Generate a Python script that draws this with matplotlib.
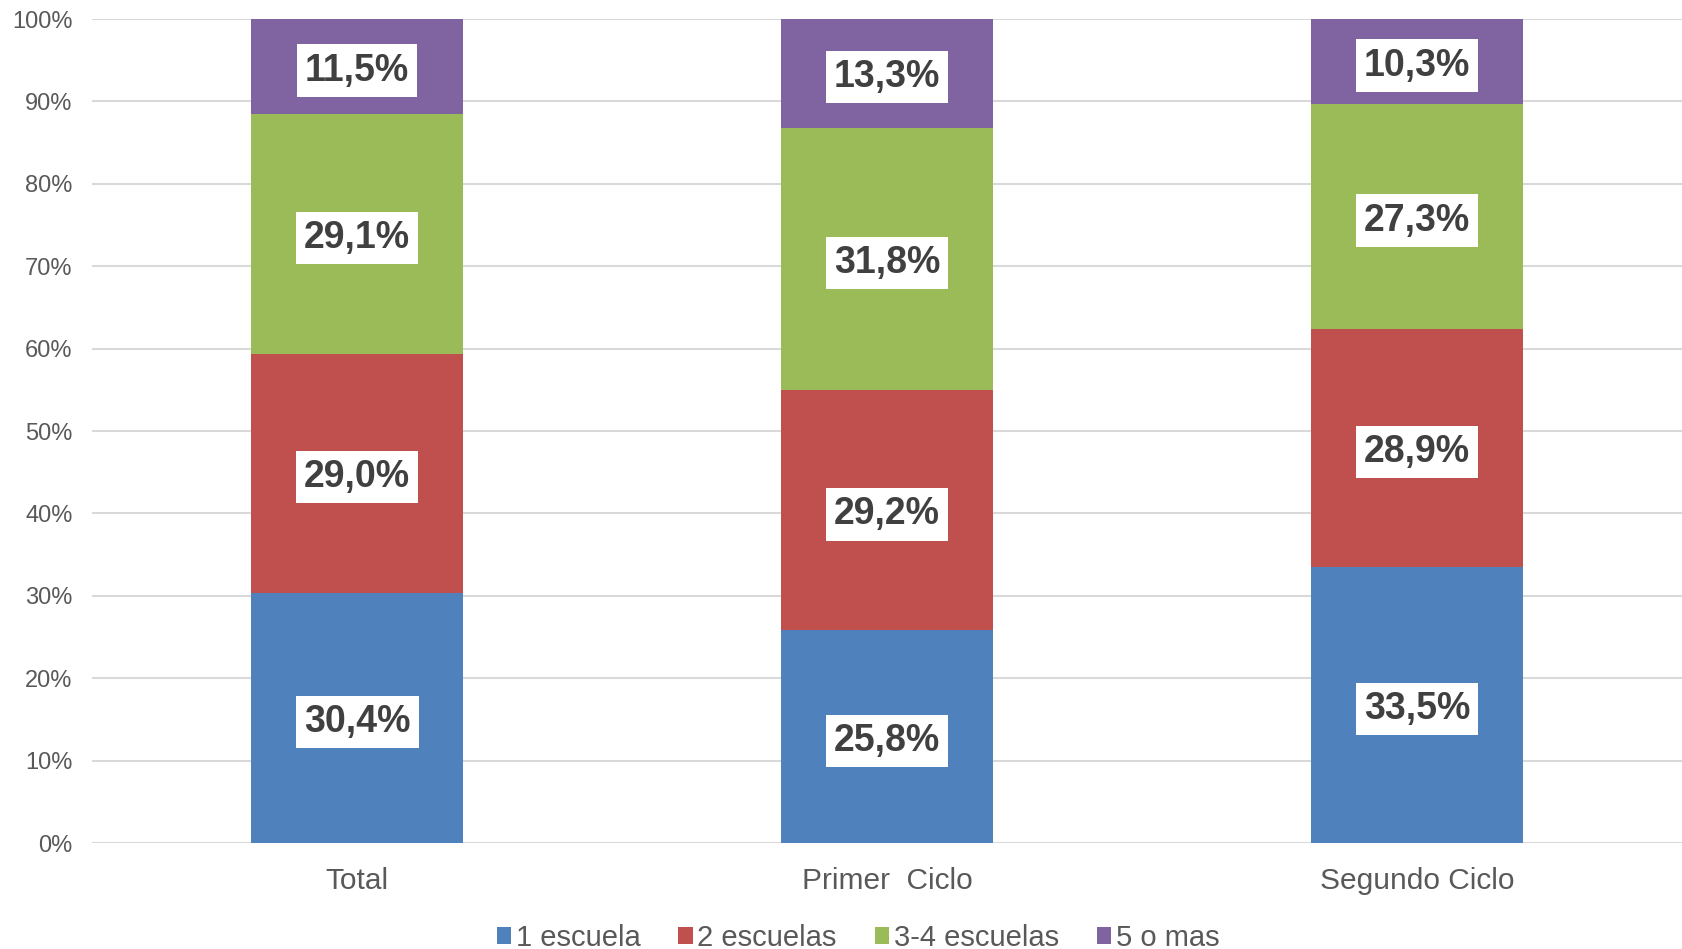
import matplotlib
matplotlib.use("Agg")
import matplotlib.pyplot as plt
import numpy as np

categories = ["Total", "Primer  Ciclo", "Segundo Ciclo"]
series_names = ["1 escuela", "2 escuelas", "3-4 escuelas", "5 o mas"]
s1 = [30.4, 25.8, 33.5]
s2 = [29.0, 29.2, 28.9]
s3 = [29.1, 31.8, 27.3]
s4 = [11.5, 13.3, 10.3]
colors = ["#4F81BD", "#C0504D", "#9BBB59", "#8064A2"]
yticks = [0, 10, 20, 30, 40, 50, 60, 70, 80, 90, 100]

plt.rcParams['font.family'] = ['Liberation Sans', 'DejaVu Sans']

fig = plt.figure(figsize=(16.82, 9.49), dpi=100)
ax = fig.add_axes([92/1682, 1-843/949, 1-92/1682, (843-19)/949])

x = np.arange(len(categories))
bottom = np.zeros(len(categories))
handles = []
for vals, c, name in zip([s1, s2, s3, s4], colors, series_names):
    vals = np.array(vals)
    b = ax.bar(x, vals, 0.4, bottom=bottom, color=c, label=name, zorder=3)
    handles.append(b)
    for xi, v, bt in zip(x, vals, bottom):
        ax.annotate(f"{v:.1f}%".replace(".", ","), xy=(xi, bt + v/2), xytext=(0, -3),
                    textcoords="offset points", ha="center", va="center",
                    fontsize=27, fontweight="bold", color="#404040", zorder=5,
                    bbox=dict(boxstyle="square,pad=0.22", facecolor="white", edgecolor="none"))
    bottom = bottom + vals

ax.set_xlim(-0.5, 2.5)
ax.set_ylim(0, 100)
ax.set_yticks(yticks)
ax.set_yticklabels([f"{t}%" for t in yticks], fontsize=17, color="#595959")
ax.set_xticks(x)
ax.set_xticklabels(categories, fontsize=21.5, color="#595959")
ax.yaxis.grid(True, color="#D9D9D9", linewidth=1.5, zorder=0)
ax.set_axisbelow(True)
for sp in ax.spines.values():
    sp.set_visible(False)
ax.tick_params(axis="both", length=0)
ax.tick_params(axis="y", pad=14)
ax.tick_params(axis="x", pad=17)

fig.legend(handles=handles, labels=series_names, loc="center", bbox_to_anchor=(858/1682, 1-938/949),
           ncol=4, frameon=False, handlelength=0.5, handleheight=0.5, handletextpad=0.15,
           columnspacing=1.3, prop={'family': ['Liberation Sans Narrow', 'Liberation Sans'], 'size': 21},
           labelcolor="#595959")

fig.savefig("out.png", dpi=100)
